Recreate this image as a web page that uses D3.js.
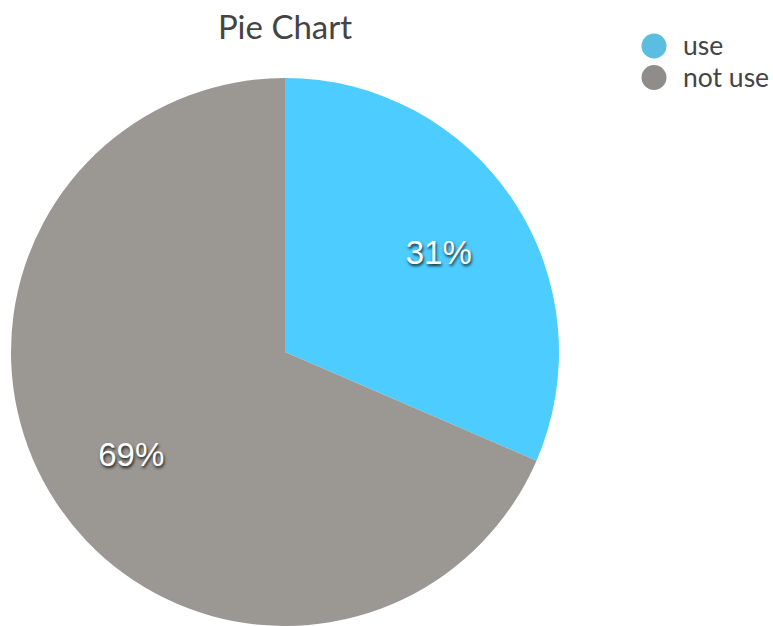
<!DOCTYPE html>
<html>
<head>
<meta charset="utf-8">
<script src="https://cdn.jsdelivr.net/npm/d3@7"></script>
<style>
  body { margin: 0; background: #fff; }
  .title { font-family: Lato, sans-serif; font-size: 33px; fill: #444; }
  .legend-text { font-family: Lato, sans-serif; font-size: 26.5px; fill: #444; }
  .slice-label { font-family: "Liberation Sans", Arial, sans-serif; font-size: 33px; fill: #fff;
    text-shadow: 1px 2px 3px rgba(0,0,0,0.8); }
</style>
</head>
<body>
<div id="chart"></div>
<script>
const categories = ["use", "not use"];
const values = [31.49, 68.51];
const sliceColors = ["#4dcdff", "#9b9793"];
const legendColors = ["#5bbde0", "#8f8c89"];

const width = 773, height = 626;
const cx = 285, cy = 352, radius = 274;

const svg = d3.select("#chart").append("svg")
  .attr("width", width)
  .attr("height", height);

svg.append("text")
  .attr("class", "title")
  .attr("x", cx)
  .attr("y", 39)
  .attr("text-anchor", "middle")
  .text("Pie Chart");

const data = categories.map((c, i) => ({ name: c, value: values[i], i }));
const total = d3.sum(values);

const pie = d3.pie().sort(null).value(d => d.value);
const arc = d3.arc().innerRadius(0).outerRadius(radius);
const labelArc = d3.arc().innerRadius(184).outerRadius(184);

const g = svg.append("g").attr("transform", `translate(${cx},${cy})`);

const arcs = pie(data);

g.selectAll("path")
  .data(arcs)
  .enter().append("path")
  .attr("d", arc)
  .attr("fill", d => sliceColors[d.data.i]);

g.selectAll(".slice-label")
  .data(arcs)
  .enter().append("text")
  .attr("class", "slice-label")
  .attr("transform", d => `translate(${labelArc.centroid(d)})`)
  .attr("text-anchor", "middle")
  .attr("dy", "0.4em")
  .text(d => Math.round(d.data.value / total * 100) + "%");

// legend
const legend = svg.append("g").attr("transform", "translate(654,46)");
const items = legend.selectAll("g")
  .data(data)
  .enter().append("g")
  .attr("transform", (d, i) => `translate(0,${i * 31.5})`);

items.append("circle")
  .attr("r", 12.5)
  .attr("fill", d => legendColors[d.i]);

items.append("text")
  .attr("class", "legend-text")
  .attr("x", 29)
  .attr("dy", "0.35em")
  .text(d => d.name);
</script>
</body>
</html>
